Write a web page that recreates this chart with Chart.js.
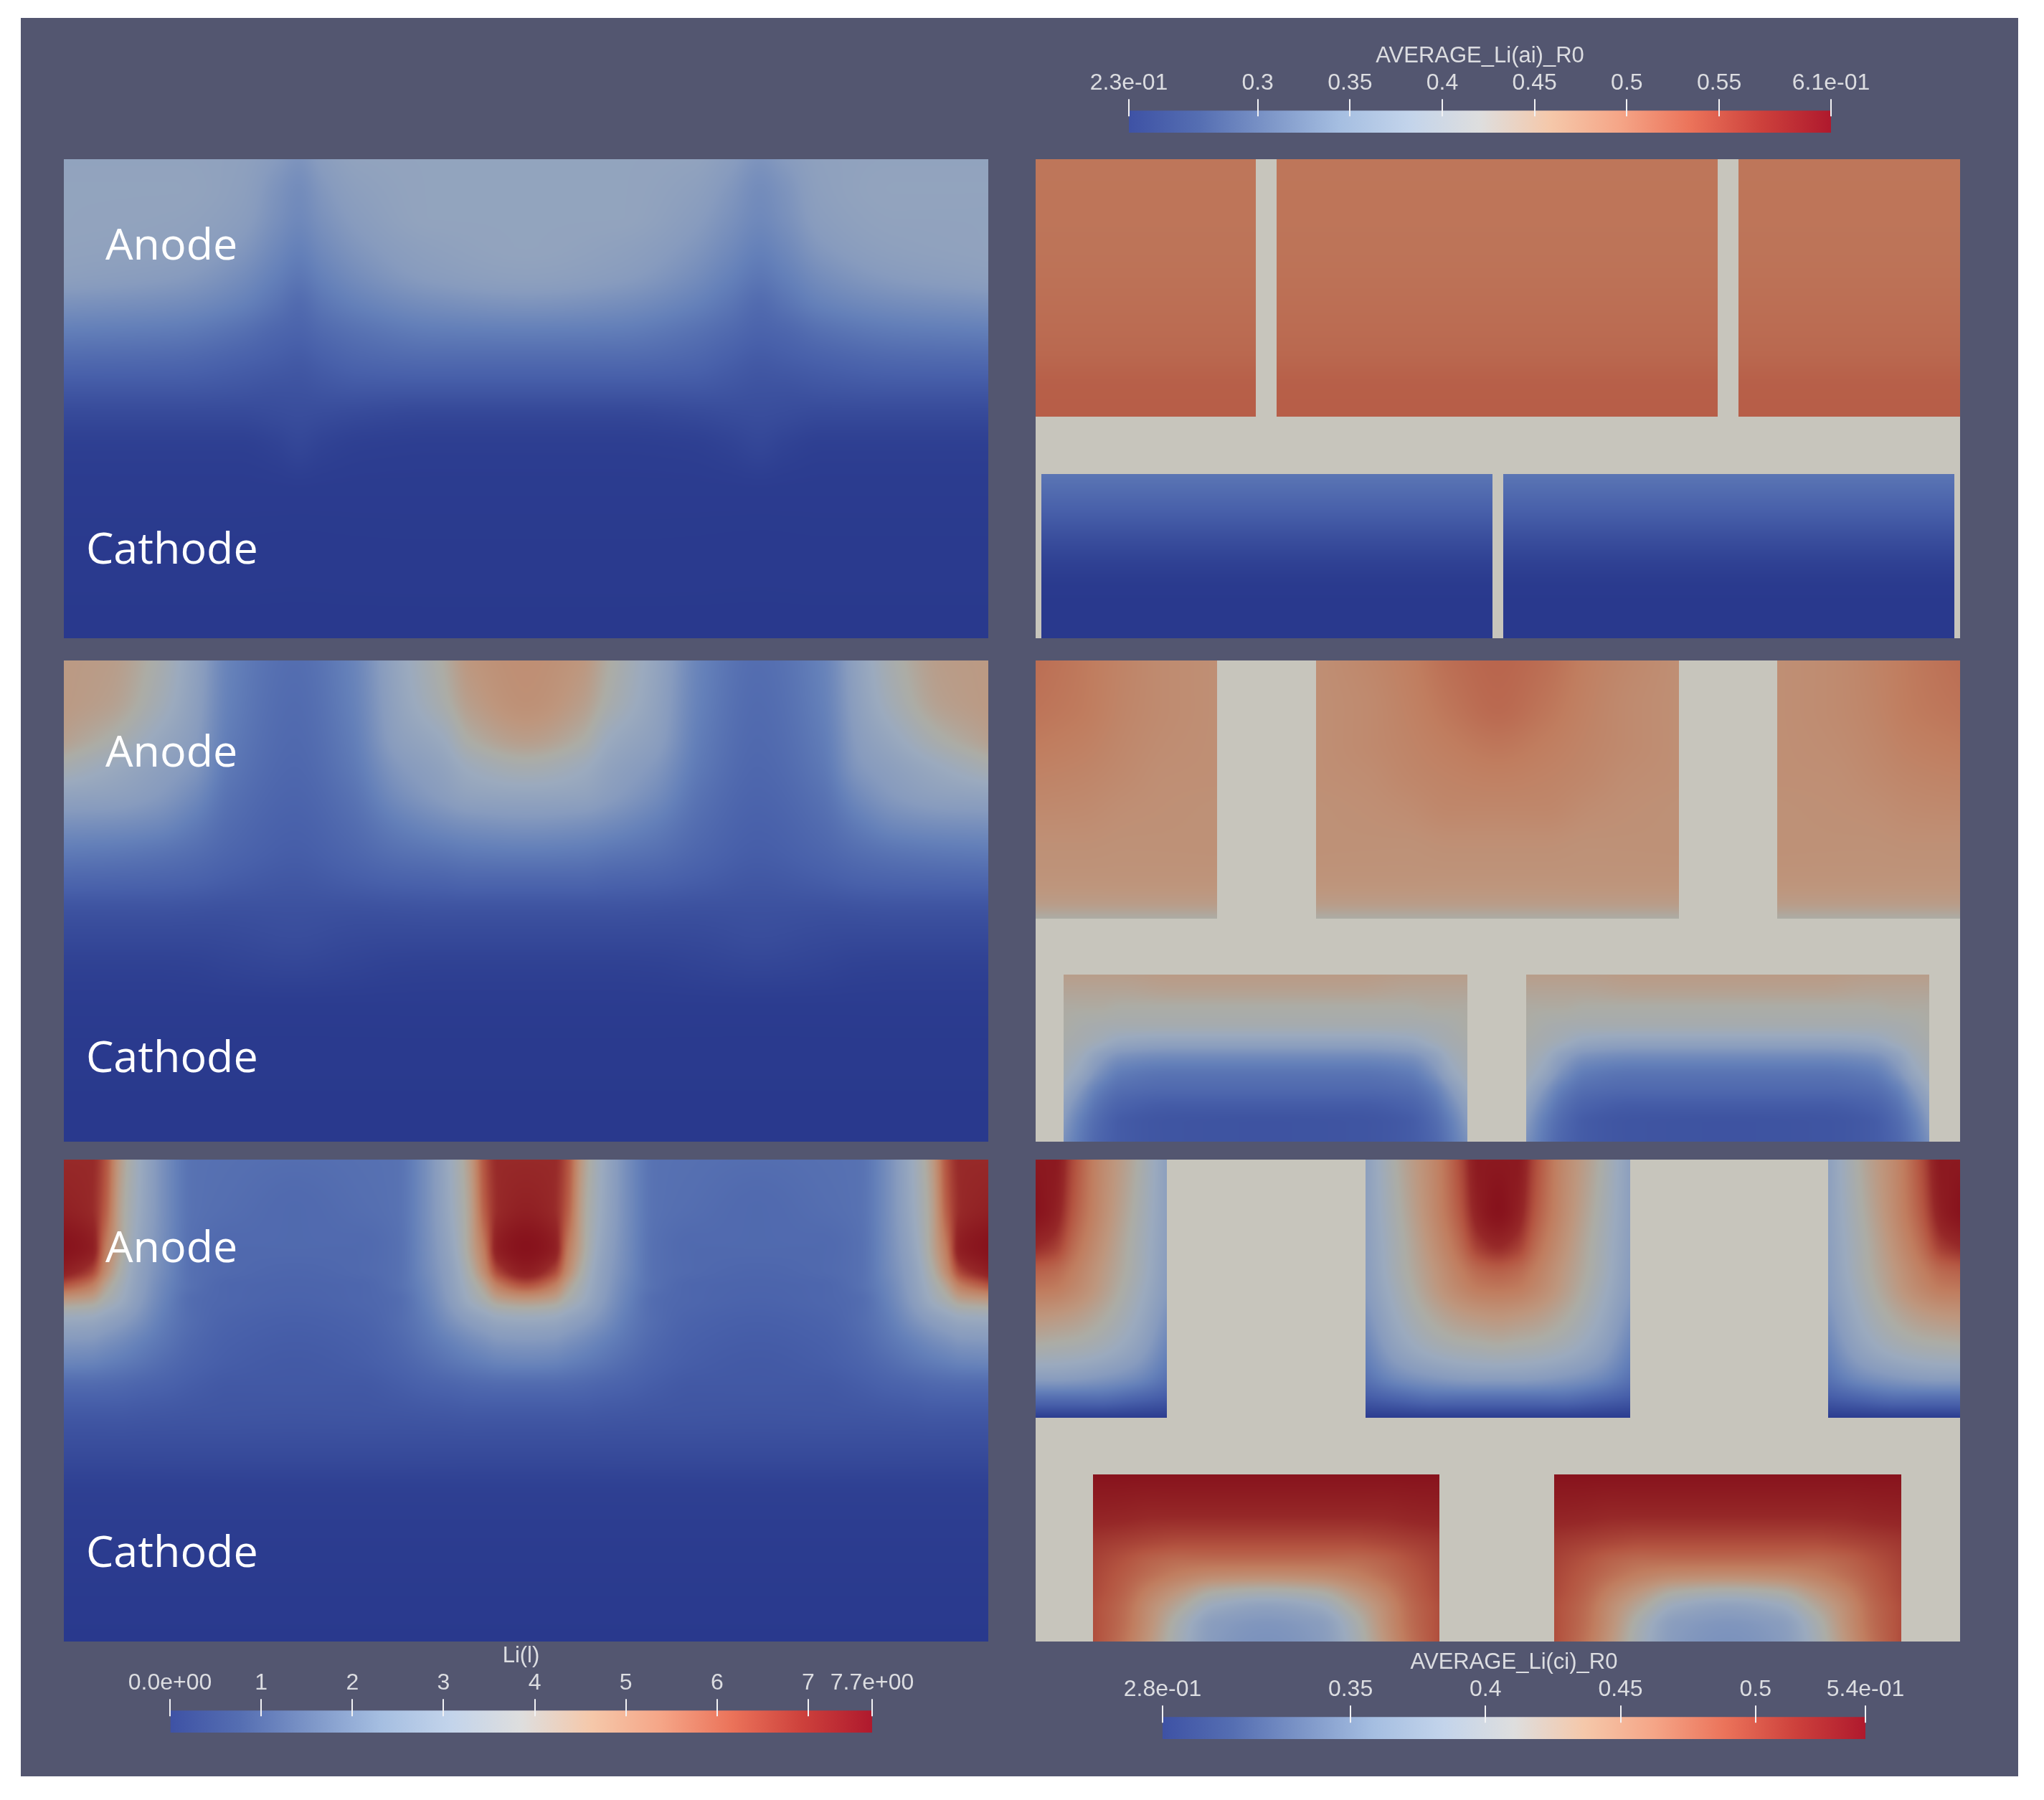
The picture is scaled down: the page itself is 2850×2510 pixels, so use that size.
<!DOCTYPE html>
<html>
<head>
<meta charset="utf-8">
<title>Li(l), AVERAGE_Li(ai)_R0, AVERAGE_Li(ci)_R0</title>
<script src="https://cdn.jsdelivr.net/npm/chart.js@4"></script>
<style>
  html,body{margin:0;background:#fff;overflow:hidden}
  #bg{position:absolute;left:29px;top:25px;width:2785px;height:2452px;background:#535670}
  canvas{position:absolute}
</style>
</head>
<body>
<div id="bg"></div>
<script>
// colour bars
const LI_RANGE=[0,7.7], AI_RANGE=[0.2302,0.6106], CI_RANGE=[0.2804,0.5407];
const LI_TICKS=[0,1,2,3,4,5,6,7,7.7];
const LI_LABELS=['0.0e+00','1','2','3','4','5','6','7','7.7e+00'];
const AI_TICKS=[0.2302,0.3,0.35,0.4,0.45,0.5,0.55,0.6106];
const AI_LABELS=['2.3e-01','0.3','0.35','0.4','0.45','0.5','0.55','6.1e-01'];
const CI_TICKS=[0.2804,0.35,0.4,0.45,0.5,0.5407];
const CI_LABELS=['2.8e-01','0.35','0.4','0.45','0.5','5.4e-01'];

// Li(l), left column. xs/ys are percent of the panel, rows run top to bottom
const L1_X=[0,12,19,23,25.4,28,32,40,50,60,68,72,75.3,78,82,90,100];
const L1_Y=[0,6,12,18,24,30,36,42,48,54,60,70,100];
const L1_V=[
[2.7,2.7,2.6,2.3,2.1,2.4,2.7,2.75,2.75,2.75,2.7,2.4,2.1,2.3,2.6,2.7,2.7],
[2.75,2.75,2.55,2.1,1.9,2.2,2.55,2.75,2.75,2.75,2.55,2.2,1.9,2.1,2.55,2.75,2.75],
[2.75,2.7,2.45,2.0,1.8,2.05,2.4,2.75,2.75,2.75,2.4,2.05,1.8,2.0,2.45,2.7,2.7],
[2.7,2.6,2.25,1.8,1.6,1.85,2.2,2.6,2.75,2.6,2.2,1.85,1.6,1.8,2.25,2.6,2.7],
[2.55,2.35,1.95,1.55,1.35,1.6,1.95,2.4,2.6,2.4,1.95,1.6,1.35,1.55,1.95,2.35,2.55],
[2.05,1.9,1.6,1.25,1.05,1.3,1.6,1.95,2.1,1.95,1.6,1.3,1.05,1.25,1.6,1.9,2.05],
[1.5,1.4,1.15,.92,.85,1.0,1.2,1.45,1.5,1.45,1.2,1.0,.85,.92,1.15,1.4,1.5],
[1.0,.95,.8,.7,.65,.75,.9,1.0,1.0,1.0,.9,.75,.65,.7,.8,.95,1.0],
[.6,.6,.55,.5,.5,.55,.6,.6,.6,.6,.6,.55,.5,.5,.55,.6,.6],
[.3,.3,.3,.35,.38,.35,.3,.25,.25,.25,.3,.35,.38,.35,.3,.3,.3],
[.12,.12,.12,.18,.25,.18,.12,.1,.1,.1,.12,.18,.25,.18,.12,.12,.12],
[.05,.05,.05,.05,.05,.05,.05,.05,.05,.05,.05,.05,.05,.05,.05,.05,.05],
[0,0,0,0,0,0,0,0,0,0,0,0,0,0,0,0,0]];

const L2_X=[0,5,10,14,18,25,31,36,41,44,50,56,59,64,69,75,82,86,90,95,100];
const L2_Y=[0,8,16,22,28,34,40,46,52,58,64,72,82,100];
const L2_V=[
[4.5,4.4,3.7,2.7,1.6,1.1,1.6,2.8,3.9,4.6,4.85,4.6,3.9,2.8,1.6,1.1,1.6,2.7,3.7,4.4,4.5],
[4.5,4.3,3.5,2.6,1.55,1.05,1.55,2.7,3.7,4.4,4.8,4.4,3.7,2.7,1.55,1.05,1.55,2.6,3.5,4.3,4.5],
[4.3,3.8,3.0,2.4,1.45,1.0,1.45,2.5,3.1,3.9,4.4,3.9,3.1,2.5,1.45,1.0,1.45,2.4,3.0,3.8,4.3],
[3.6,3.1,2.6,2.2,1.35,.95,1.35,2.2,2.7,3.2,3.6,3.2,2.7,2.2,1.35,.95,1.35,2.2,2.6,3.1,3.6],
[2.7,2.6,2.3,1.85,1.2,.88,1.2,1.9,2.4,2.7,2.8,2.7,2.4,1.9,1.2,.88,1.2,1.85,2.3,2.6,2.7],
[2.0,1.95,1.8,1.45,1.05,.8,1.05,1.5,1.85,2.0,2.1,2.0,1.85,1.5,1.05,.8,1.05,1.45,1.8,1.95,2.0],
[1.4,1.35,1.25,1.1,.9,.72,.9,1.15,1.3,1.4,1.45,1.4,1.3,1.15,.9,.72,.9,1.1,1.25,1.35,1.4],
[.9,.88,.85,.8,.7,.6,.7,.8,.85,.9,.9,.9,.85,.8,.7,.6,.7,.8,.85,.88,.9],
[.5,.5,.5,.48,.46,.47,.46,.48,.5,.5,.5,.5,.5,.48,.46,.47,.46,.48,.5,.5,.5],
[.3,.3,.3,.3,.32,.38,.32,.3,.3,.3,.3,.3,.3,.3,.32,.38,.32,.3,.3,.3,.3],
[.15,.15,.15,.16,.2,.24,.2,.16,.15,.15,.15,.15,.15,.16,.2,.24,.2,.16,.15,.15,.15],
[.06,.06,.06,.06,.06,.06,.06,.06,.06,.06,.06,.06,.06,.06,.06,.06,.06,.06,.06,.06,.06],
[.02,.02,.02,.02,.02,.02,.02,.02,.02,.02,.02,.02,.02,.02,.02,.02,.02,.02,.02,.02,.02],
[0,0,0,0,0,0,0,0,0,0,0,0,0,0,0,0,0,0,0,0,0]];

const L3_X=[0,3,4.5,6,8,11,14,18,25,32,36,39,42,44,45.5,47,50,53,54.5,56,58,61,64,68,75,82,86,89,92,94,95.5,97,100];
const L3_Y=[0,10,18,23,26,29,33,38,42,47,53,60,70,100];
const L3_V=[
[6.9,6.9,6.2,4.5,3.2,1.9,1.2,1.15,1.1,1.15,1.2,1.9,3.2,4.5,6.2,6.9,6.9,6.9,6.2,4.5,3.2,1.9,1.2,1.15,1.1,1.15,1.2,1.9,3.2,4.5,6.2,6.9,6.9],
[7.2,6.9,6.0,4.3,3.1,1.9,1.2,1.1,1.0,1.1,1.2,1.9,3.1,4.3,6.0,6.9,7.2,6.9,6.0,4.3,3.1,1.9,1.2,1.1,1.0,1.1,1.2,1.9,3.1,4.3,6.0,6.9,7.2],
[7.7,7.3,5.5,4.2,2.9,1.85,1.15,1.0,1.0,1.0,1.15,1.85,2.9,4.2,5.5,7.3,7.7,7.3,5.5,4.2,2.9,1.85,1.15,1.0,1.0,1.0,1.15,1.85,2.9,4.2,5.5,7.3,7.7],
[7.3,6.5,5.0,3.85,2.7,1.8,1.15,1.0,.92,1.0,1.15,1.8,2.7,3.85,5.0,6.5,7.3,6.5,5.0,3.85,2.7,1.8,1.15,1.0,.92,1.0,1.15,1.8,2.7,3.85,5.0,6.5,7.3],
[6.2,5.4,4.3,3.5,2.6,1.7,1.15,.92,.88,.92,1.15,1.7,2.6,3.5,4.3,5.4,6.2,5.4,4.3,3.5,2.6,1.7,1.15,.92,.88,.92,1.15,1.7,2.6,3.5,4.3,5.4,6.2],
[4.6,4.3,3.7,3.2,2.45,1.6,1.05,.92,.85,.92,1.05,1.6,2.45,3.2,3.7,4.3,4.6,4.3,3.7,3.2,2.45,1.6,1.05,.92,.85,.92,1.05,1.6,2.45,3.2,3.7,4.3,4.6],
[3.1,3.0,2.75,2.5,2.1,1.45,1.05,.85,.77,.85,1.05,1.45,2.1,2.5,2.75,3.0,3.1,3.0,2.75,2.5,2.1,1.45,1.05,.85,.77,.85,1.05,1.45,2.1,2.5,2.75,3.0,3.1],
[2.2,2.15,2.0,1.85,1.6,1.25,.95,.77,.7,.77,.95,1.25,1.6,1.85,2.0,2.15,2.2,2.15,2.0,1.85,1.6,1.25,.95,.77,.7,.77,.95,1.25,1.6,1.85,2.0,2.15,2.2],
[1.7,1.65,1.55,1.45,1.3,1.05,.85,.72,.65,.72,.85,1.05,1.3,1.45,1.55,1.65,1.7,1.65,1.55,1.45,1.3,1.05,.85,.72,.65,.72,.85,1.05,1.3,1.45,1.55,1.65,1.7],
[1.0,1.0,.98,.95,.88,.8,.7,.62,.62,.62,.7,.8,.88,.95,.98,1.0,1.0,1.0,.98,.95,.88,.8,.7,.62,.62,.62,.7,.8,.88,.95,.98,1.0,1.0],
[.62,.62,.62,.62,.6,.58,.56,.55,.54,.55,.56,.58,.6,.62,.62,.62,.62,.62,.62,.62,.6,.58,.56,.55,.54,.55,.56,.58,.6,.62,.62,.62,.62],
[.38,.38,.38,.38,.38,.38,.38,.38,.38,.38,.38,.38,.38,.38,.38,.38,.38,.38,.38,.38,.38,.38,.38,.38,.38,.38,.38,.38,.38,.38,.38,.38,.38],
[.12,.12,.12,.12,.12,.12,.12,.12,.12,.12,.12,.12,.12,.12,.12,.12,.12,.12,.12,.12,.12,.12,.12,.12,.12,.12,.12,.12,.12,.12,.12,.12,.12],
[0,0,0,0,0,0,0,0,0,0,0,0,0,0,0,0,0,0,0,0,0,0,0,0,0,0,0,0,0,0,0,0,0]];

// AVERAGE_Li(ai)_R0 / AVERAGE_Li(ci)_R0, right column, top panel
const R1_ANODE_Y=[0,18,30,40,48,53.7];
const R1_ANODE_V=[[.503,.503],[.505,.505],[.51,.51],[.516,.516],[.525,.525],[.526,.526]];
const R1_ANODE_X=[[0,23.8],[26.1,73.8],[76,100]];
const R1_CATH_Y=[65.7,70,75,80,85,90,100];
const R1_CATH_V=[[.324,.324],[.314,.314],[.303,.303],[.293,.293],[.285,.285],[.281,.281],[.28,.28]];
const R1_CATH_X=[[.6,49.4],[50.6,99.4]];

// middle panel
const R2_ANODE_Y=[0,10,17,24,31,38,45,50,53.7];
const R2_A1_X=[0,5,10,14,19.6];
const R2_A1_V=[[.511,.5,.485,.475,.469],[.505,.498,.483,.475,.469],[.498,.492,.48,.473,.469],[.488,.484,.476,.47,.469],[.478,.476,.47,.468,.466],[.468,.468,.466,.466,.466],[.462,.462,.462,.462,.462],[.45,.45,.45,.45,.45],[.42,.42,.42,.42,.42]];
const R2_A2_X=[30.3,36,40,45,50,55,60,64,69.6];
const R2_A2_V=[
[.469,.481,.492,.511,.519,.511,.492,.481,.469],
[.469,.477,.488,.504,.515,.504,.488,.477,.469],
[.469,.477,.485,.496,.504,.496,.485,.477,.469],
[.469,.473,.481,.488,.492,.488,.481,.473,.469],
[.466,.469,.473,.481,.481,.481,.473,.469,.466],
[.466,.466,.466,.469,.469,.469,.466,.466,.466],
[.462,.462,.462,.462,.462,.462,.462,.462,.462],
[.45,.45,.45,.45,.45,.45,.45,.45,.45],
[.42,.42,.42,.42,.42,.42,.42,.42,.42]];
const R2_A3_X=[80.2,86,90,95,100];
const R2_A3_V=[[.469,.475,.485,.5,.511],[.469,.475,.483,.498,.505],[.469,.473,.48,.492,.498],[.469,.47,.476,.484,.488],[.466,.468,.47,.476,.478],[.466,.466,.466,.468,.468],[.462,.462,.462,.462,.462],[.45,.45,.45,.45,.45],[.42,.42,.42,.42,.42]];
const R2_CATH_Y=[65.3,68.7,72,75.7,79,82.4,86,89,92.7,96,100];
const R2_C1_X=[3,4.8,6.8,9.4,14.7,24.9,35,40.4,43,44.9,46.7];
const R2_C2_X=[53.1,54.9,56.9,59.5,64.8,75,85.1,90.5,93.1,95,96.7];
const R2_C_V=[
[.428,.428,.428,.428,.431,.431,.431,.428,.428,.428,.428],
[.42,.42,.42,.42,.423,.423,.423,.42,.42,.42,.42],
[.413,.413,.413,.41,.41,.41,.41,.41,.413,.413,.413],
[.41,.405,.402,.4,.4,.4,.4,.4,.402,.405,.41],
[.405,.4,.392,.379,.374,.374,.374,.379,.392,.4,.405],
[.4,.389,.366,.348,.342,.342,.342,.348,.366,.389,.4],
[.394,.376,.348,.328,.322,.322,.322,.328,.348,.376,.394],
[.384,.358,.332,.318,.314,.314,.314,.318,.332,.358,.384],
[.368,.342,.32,.308,.303,.303,.303,.308,.32,.342,.368],
[.358,.332,.314,.303,.299,.298,.299,.303,.314,.332,.358],
[.348,.327,.311,.303,.299,.298,.299,.303,.311,.327,.348]];

// bottom panel
const R3_ANODE_Y=[0,10,18,22.8,27,31.6,38.5,45,49.4,52,53.5];
const R3_A1_X=[0,2,4,6.6,10.6,14.2];
const R3_A1_V=[
[.599,.599,.545,.488,.428,.355],
[.61,.591,.535,.485,.42,.355],
[.572,.556,.515,.473,.412,.352],
[.526,.518,.496,.462,.409,.348],
[.5,.496,.481,.454,.401,.344],
[.466,.462,.454,.435,.39,.333],
[.42,.416,.412,.401,.367,.314],
[.355,.355,.352,.344,.325,.291],
[.287,.287,.287,.287,.276,.264],
[.253,.253,.253,.253,.249,.245],
[.234,.234,.234,.234,.234,.234]];
const R3_A2_X=[35.7,39.4,43.4,46,48,50,52,54,56.6,60.6,64.3];
const R3_A2_V=[
[.355,.428,.488,.545,.599,.599,.599,.545,.488,.428,.355],
[.355,.42,.485,.535,.591,.61,.591,.535,.485,.42,.355],
[.352,.412,.473,.515,.556,.572,.556,.515,.473,.412,.352],
[.348,.409,.462,.496,.518,.526,.518,.496,.462,.409,.348],
[.344,.401,.454,.481,.496,.5,.496,.481,.454,.401,.344],
[.333,.39,.435,.454,.462,.466,.462,.454,.435,.39,.333],
[.314,.367,.401,.412,.416,.42,.416,.412,.401,.367,.314],
[.291,.325,.344,.352,.355,.355,.355,.352,.344,.325,.291],
[.264,.276,.287,.287,.287,.287,.287,.287,.287,.276,.264],
[.245,.249,.253,.253,.253,.253,.253,.253,.253,.249,.245],
[.234,.234,.234,.234,.234,.234,.234,.234,.234,.234,.234]];
const R3_A3_X=[85.7,89.4,93.4,96,98,100];
const R3_A3_V=[
[.355,.428,.488,.545,.599,.599],
[.355,.42,.485,.535,.591,.61],
[.352,.412,.473,.515,.556,.572],
[.348,.409,.462,.496,.518,.526],
[.344,.401,.454,.481,.496,.5],
[.333,.39,.435,.454,.462,.466],
[.314,.367,.401,.412,.416,.42],
[.291,.325,.344,.352,.355,.355],
[.264,.276,.287,.287,.287,.287],
[.245,.249,.253,.253,.253,.253],
[.234,.234,.234,.234,.234,.234]];
const R3_CATH_Y=[65.3,72.7,79.5,82.9,86.3,89.8,93.2,96.6,100];
const R3_C1_X=[6.2,9.4,12.7,16,19.4,25,30.6,34,37.3,40.6,43.7];
const R3_C2_X=[56.1,59.3,62.6,65.9,69.3,74.9,80.5,83.9,87.2,90.5,93.6];
const R3_C_V=[
[.54,.54,.54,.54,.54,.54,.54,.54,.54,.54,.54],
[.524,.522,.519,.519,.519,.519,.519,.519,.519,.522,.524],
[.506,.501,.496,.493,.493,.493,.493,.493,.496,.501,.506],
[.501,.491,.48,.475,.475,.475,.475,.475,.48,.491,.501],
[.498,.485,.47,.457,.449,.446,.449,.457,.47,.485,.498],
[.496,.48,.454,.431,.41,.402,.41,.431,.454,.48,.496],
[.493,.475,.441,.41,.379,.366,.379,.41,.441,.475,.493],
[.493,.473,.436,.394,.361,.353,.361,.394,.436,.473,.493],
[.493,.47,.431,.389,.358,.35,.358,.389,.431,.47,.493]];

// colour ramps, position along the scale then r,g,b. Lit surfaces are darker than the bar
const BAR_RAMP=[[0,62,82,165],[.1,85,110,178],[.2,125,150,200],[.3,165,190,225],[.4,195,212,235],[.5,222,222,222],[.6,245,200,170],[.7,245,165,135],[.8,235,115,90],[.9,205,65,60],[1,175,25,45]];
const LIT_RAMP=[[0,41,57,141],[.1,72,96,170],[.2,100,128,185],[.3,135,155,190],[.4,155,170,190],[.5,172,172,165],[.6,190,150,125],[.7,192,125,95],[.8,180,85,65],[.9,150,40,40],[1,135,18,28]];
const INACTIVE='#c7c5bc';

function rampColor(ramp,t){
  t=Math.max(0,Math.min(1,t));
  let i=0; while(i<ramp.length-2 && t>ramp[i+1][0]) i++;
  const a=ramp[i], b=ramp[i+1], f=(t-a[0])/(b[0]-a[0]);
  return [1,2,3].map(k=>a[k]+(b[k]-a[k])*f);
}
// shape preserving cubic through the read values, evaluated at the sorted positions in at
function shade(xs,vs,at){
  const n=xs.length, h=[], d=[], m=new Array(n);
  for(let i=0;i<n-1;i++){ h[i]=xs[i+1]-xs[i]; d[i]=(vs[i+1]-vs[i])/h[i]; }
  m[0]=d[0]; m[n-1]=d[n-2];
  for(let i=1;i<n-1;i++){
    if(d[i-1]*d[i]<=0){ m[i]=0; continue; }
    const w1=2*h[i]+h[i-1], w2=h[i]+2*h[i-1];
    m[i]=(w1+w2)/(w1/d[i-1]+w2/d[i]);
  }
  const out=new Array(at.length); let k=0;
  for(let j=0;j<at.length;j++){
    const v=Math.max(xs[0],Math.min(xs[n-1],at[j]));
    while(k<n-2 && v>xs[k+1]) k++;
    const t=(v-xs[k])/h[k], t2=t*t, t3=t2*t;
    out[j]=(2*t3-3*t2+1)*vs[k]+(t3-2*t2+t)*h[k]*m[k]+(3*t2-2*t3)*vs[k+1]+(t3-t2)*h[k]*m[k+1];
  }
  return out;
}
function block(label,xs,ys,vals,range){
  const data=[];
  ys.forEach((y,r)=>xs.forEach((x,c)=>data.push({x,y,v:vals[r][c]})));
  return {label,data,pointRadius:0,heat:{xs,ys,vals,range}};
}

// paints each block's grid through the chart's scales, shaded between the read values
const heatPlugin={
  id:'heatCells',
  beforeDatasetsDraw(chart,args,opts){
    const {ctx,chartArea:a,scales:{x,y}}=chart;
    if(opts.background){ ctx.fillStyle=opts.background; ctx.fillRect(a.left,a.top,a.width,a.height); }
    chart.data.datasets.forEach(ds=>{
      const h=ds.heat; if(!h) return;
      const x0=Math.round(x.getPixelForValue(h.xs[0])), x1=Math.round(x.getPixelForValue(h.xs[h.xs.length-1]));
      const y0=Math.round(y.getPixelForValue(h.ys[0])), y1=Math.round(y.getPixelForValue(h.ys[h.ys.length-1]));
      const w=x1-x0, ht=y1-y0;
      const off=document.createElement('canvas'); off.width=w; off.height=ht;
      const oc=off.getContext('2d'), img=oc.createImageData(w,ht);
      const lo=h.range[0], hi=h.range[1];
      const atX=[], atY=[];
      for(let px=0;px<w;px++) atX.push(x.getValueForPixel(x0+px+.5));
      for(let py=0;py<ht;py++) atY.push(y.getValueForPixel(y0+py+.5));
      const rows=h.vals.map(r=>shade(h.xs,r,atX));
      for(let px=0;px<w;px++){
        const col=shade(h.ys,rows.map(r=>r[px]),atY);
        for(let py=0;py<ht;py++){
          const c=rampColor(LIT_RAMP,(col[py]-lo)/(hi-lo));
          const o=(py*w+px)*4;
          img.data[o]=c[0]; img.data[o+1]=c[1]; img.data[o+2]=c[2]; img.data[o+3]=255;
        }
      }
      oc.putImageData(img,0,0);
      ctx.drawImage(off,x0,y0);
    });
  },
  afterDatasetsDraw(chart,args,opts){
    const {ctx,scales:{x,y}}=chart;
    (opts.notes||[]).forEach(n=>{
      ctx.save();
      ctx.fillStyle='#fff'; ctx.font='61px "Open Sans"'; ctx.textBaseline='alphabetic';
      ctx.fillText(n[0],x.getPixelForValue(n[1]),y.getPixelForValue(n[2]));
      ctx.restore();
    });
  }
};

function panel(left,top,width,height,datasets,notes,background){
  const c=document.createElement('canvas');
  c.width=width; c.height=height;
  c.style.left=left+'px'; c.style.top=top+'px';
  document.body.appendChild(c);
  return new Chart(c,{
    type:'scatter',
    data:{datasets},
    plugins:[heatPlugin],
    options:{
      responsive:false,animation:false,events:[],
      layout:{padding:0},
      scales:{
        x:{type:'linear',min:0,max:100,display:false},
        y:{type:'linear',min:0,max:100,reverse:true,display:false}
      },
      plugins:{legend:{display:false},tooltip:{enabled:false},heatCells:{notes,background}}
    }
  });
}

// the part of each tick that runs over the bar
const tickPlugin={
  id:'barTicks',
  afterDatasetsDraw(chart){
    const {ctx,chartArea:a,scales:{x}}=chart;
    ctx.save(); ctx.strokeStyle='#f2f2f4'; ctx.lineWidth=2;
    x.ticks.forEach(t=>{
      const p=Math.round(x.getPixelForValue(t.value));
      ctx.beginPath(); ctx.moveTo(p,a.top-1); ctx.lineTo(p,a.top+8); ctx.stroke();
    });
    ctx.restore();
  }
};

function colorBar(title,range,ticks,labels,x0,x1,y0,y1){
  const margin=110, above=100;
  const c=document.createElement('canvas');
  c.width=x1-x0+margin*2; c.height=y1-y0+above;
  c.style.left=(x0-margin)+'px'; c.style.top=(y0-above)+'px';
  document.body.appendChild(c);
  return new Chart(c,{
    type:'bar',
    data:{labels:[title],datasets:[{
      label:title,data:[range],barPercentage:1,categoryPercentage:1,
      backgroundColor(ctx){
        const a=ctx.chart.chartArea; if(!a) return '#000';
        const g=ctx.chart.ctx.createLinearGradient(a.left,0,a.right,0);
        BAR_RAMP.forEach(s=>g.addColorStop(s[0],`rgb(${s[1]},${s[2]},${s[3]})`));
        return g;
      }
    }]},
    plugins:[tickPlugin],
    options:{
      indexAxis:'y',responsive:false,animation:false,events:[],
      layout:{padding:{left:margin,right:margin,top:0,bottom:0}},
      scales:{
        x:{
          type:'linear',position:'top',min:range[0],max:range[1],
          afterBuildTicks(ax){ ax.ticks=ticks.map(v=>({value:v})); },
          afterFit(ax){ ax.height=57; },
          border:{display:false},
          grid:{drawOnChartArea:false,tickLength:16,color:'#f2f2f4',lineWidth:2},
          ticks:{
            autoSkip:false,maxRotation:0,padding:3,color:'#dcdde1',
            font:{family:'"Liberation Sans"',size:32},
            callback:v=>labels[ticks.indexOf(v)]
          }
        },
        y:{type:'category',display:false}
      },
      plugins:{
        legend:{display:false},tooltip:{enabled:false},
        title:{display:true,text:title,color:'#dcdde1',padding:{top:6,bottom:0},font:{family:'"Liberation Sans"',size:31,weight:'normal'}}
      }
    }
  });
}

// left column
panel(89,222,1289,668,[block('Li(l)',L1_X,L1_Y,L1_V,LI_RANGE)],[['Anode',4.5,21],['Cathode',2.4,84.4]]);
panel(89,921,1289,671,[block('Li(l)',L2_X,L2_Y,L2_V,LI_RANGE)],[['Anode',4.5,22],['Cathode',2.4,85.5]]);
panel(89,1617,1289,672,[block('Li(l)',L3_X,L3_Y,L3_V,LI_RANGE)],[['Anode',4.5,21.3],['Cathode',2.4,84.5]]);

// right column
panel(1444,222,1289,668,[
  ...R1_ANODE_X.map(x=>block('AVERAGE_Li(ai)_R0',x,R1_ANODE_Y,R1_ANODE_V,AI_RANGE)),
  ...R1_CATH_X.map(x=>block('AVERAGE_Li(ci)_R0',x,R1_CATH_Y,R1_CATH_V,CI_RANGE))
],[],INACTIVE);
panel(1444,921,1289,671,[
  block('AVERAGE_Li(ai)_R0',R2_A1_X,R2_ANODE_Y,R2_A1_V,AI_RANGE),
  block('AVERAGE_Li(ai)_R0',R2_A2_X,R2_ANODE_Y,R2_A2_V,AI_RANGE),
  block('AVERAGE_Li(ai)_R0',R2_A3_X,R2_ANODE_Y,R2_A3_V,AI_RANGE),
  block('AVERAGE_Li(ci)_R0',R2_C1_X,R2_CATH_Y,R2_C_V,CI_RANGE),
  block('AVERAGE_Li(ci)_R0',R2_C2_X,R2_CATH_Y,R2_C_V,CI_RANGE)
],[],INACTIVE);
panel(1444,1617,1289,672,[
  block('AVERAGE_Li(ai)_R0',R3_A1_X,R3_ANODE_Y,R3_A1_V,AI_RANGE),
  block('AVERAGE_Li(ai)_R0',R3_A2_X,R3_ANODE_Y,R3_A2_V,AI_RANGE),
  block('AVERAGE_Li(ai)_R0',R3_A3_X,R3_ANODE_Y,R3_A3_V,AI_RANGE),
  block('AVERAGE_Li(ci)_R0',R3_C1_X,R3_CATH_Y,R3_C_V,CI_RANGE),
  block('AVERAGE_Li(ci)_R0',R3_C2_X,R3_CATH_Y,R3_C_V,CI_RANGE)
],[],INACTIVE);

// colour bars
colorBar('AVERAGE_Li(ai)_R0',AI_RANGE,AI_TICKS,AI_LABELS,1574,2553,154,185);
colorBar('Li(l)',LI_RANGE,LI_TICKS,LI_LABELS,237,1216,2385,2416);
colorBar('AVERAGE_Li(ci)_R0',CI_RANGE,CI_TICKS,CI_LABELS,1621,2601,2394,2425);
</script>
</body>
</html>
